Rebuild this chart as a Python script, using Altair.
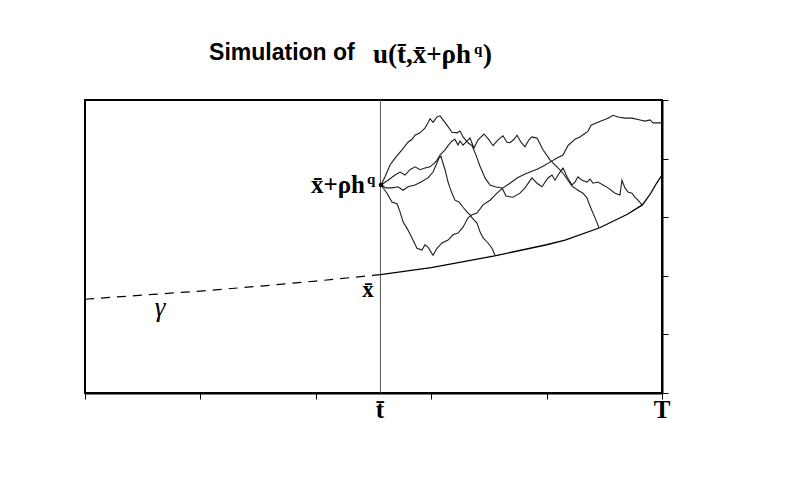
import altair as alt
import pandas as pd

# ---- data (axes units: time 0..5, space 0..5) ----
t_bar = 2.56
T_end = 5.0
x_ticks = [0, 1, 2, 3, 4, 5]
y_ticks = [0, 1, 2, 3, 4, 5]

# boundary gamma: dashed part before t_bar, solid part after
gamma_dash_t = [0.0, 0.5, 1.0, 1.5, 2.0, 2.56]
gamma_dash_x = [1.60, 1.67, 1.74, 1.82, 1.91, 2.02]
gamma_solid_t = [2.56, 3.0, 3.55, 4.0, 4.16, 4.46, 4.7, 4.83, 4.90, 4.95, 5.0]
gamma_solid_x = [2.02, 2.14, 2.34, 2.53, 2.61, 2.82, 3.05, 3.21, 3.40, 3.57, 3.72]

# simulated paths starting at (t_bar, xbar + rho h^q)
p1_t = [2.565, 2.600, 2.643, 2.695, 2.747, 2.799, 2.834, 2.860, 2.903, 2.946, 2.972, 2.990, 3.016, 3.050,
        3.076, 3.102, 3.137, 3.180, 3.224, 3.250, 3.276, 3.319, 3.354, 3.388, 3.423, 3.466, 3.510, 3.553,
        3.614, 3.648, 3.709, 3.769, 3.813, 3.873, 3.917, 3.960, 4.012, 4.047, 4.073, 4.116, 4.142, 4.177,
        4.220, 4.246, 4.272, 4.307, 4.350, 4.376, 4.402, 4.445, 4.489, 4.532, 4.593, 4.636, 4.653, 4.679,
        4.705, 4.740, 4.766, 4.792, 4.827]
p1_x = [3.55, 3.69, 3.89, 4.03, 4.15, 4.28, 4.33, 4.40, 4.44, 4.52, 4.61, 4.68, 4.62, 4.71,
        4.73, 4.66, 4.57, 4.45, 4.44, 4.47, 4.37, 4.27, 4.22, 4.06, 3.87, 3.67, 3.55, 3.52,
        3.50, 3.36, 3.34, 3.41, 3.50, 3.67, 3.58, 3.52, 3.67, 3.72, 3.63, 3.77, 3.84, 3.69,
        3.55, 3.60, 3.69, 3.63, 3.60, 3.65, 3.58, 3.60, 3.55, 3.50, 3.41, 3.38, 3.63, 3.50,
        3.43, 3.41, 3.34, 3.29, 3.21]

p2_t = [2.565, 2.626, 2.686, 2.730, 2.773, 2.816, 2.860, 2.903, 2.946, 2.990, 3.024, 3.050, 3.076, 3.120,
        3.146, 3.180, 3.206, 3.232, 3.250, 3.276, 3.310, 3.336, 3.371, 3.406, 3.458, 3.501, 3.536, 3.579,
        3.622, 3.657, 3.683, 3.718, 3.744, 3.778, 3.813, 3.847, 3.873, 3.917, 3.969, 4.029, 4.090, 4.142,
        4.185, 4.220, 4.272, 4.315, 4.350, 4.376, 4.402, 4.428, 4.454]
p2_x = [3.55, 3.63, 3.72, 3.77, 3.72, 3.81, 3.86, 3.81, 3.84, 3.86, 3.92, 3.97, 4.06, 4.15,
        4.22, 4.30, 4.33, 4.23, 4.30, 4.23, 4.30, 4.35, 4.18, 4.32, 4.42, 4.32, 4.22, 4.32,
        4.39, 4.28, 4.27, 4.33, 4.40, 4.28, 4.20, 4.32, 4.37, 4.35, 4.15, 3.98, 3.86, 3.75,
        3.63, 3.53, 3.46, 3.41, 3.33, 3.19, 3.07, 2.95, 2.82]

p3_t = [2.565, 2.608, 2.660, 2.712, 2.756, 2.799, 2.860, 2.912, 2.972, 3.016, 3.042, 3.068, 3.085, 3.102,
        3.120, 3.146, 3.163, 3.180, 3.206, 3.241, 3.276, 3.310, 3.336, 3.362, 3.397, 3.423, 3.449, 3.492,
        3.527, 3.553]
p3_x = [3.55, 3.50, 3.50, 3.52, 3.46, 3.52, 3.55, 3.60, 3.67, 3.77, 3.89, 4.01, 4.04, 3.92,
        3.81, 3.60, 3.50, 3.41, 3.29, 3.26, 3.17, 3.09, 3.04, 2.97, 2.90, 2.75, 2.65, 2.56,
        2.47, 2.35]

p4_t = [2.565, 2.617, 2.660, 2.704, 2.730, 2.756, 2.799, 2.842, 2.877, 2.920, 2.946, 2.972, 3.016, 3.050,
        3.094, 3.146, 3.189, 3.232, 3.276, 3.319, 3.354, 3.397, 3.449, 3.510, 3.570, 3.622, 3.683, 3.744,
        3.795, 3.856, 3.917, 3.969, 4.029, 4.090, 4.142, 4.185, 4.246, 4.289, 4.341, 4.359, 4.385, 4.445,
        4.532, 4.575, 4.619, 4.679, 4.740, 4.809, 4.853, 4.896, 4.922, 5.000]
p4_x = [3.55, 3.41, 3.26, 3.23, 3.09, 2.92, 2.78, 2.61, 2.47, 2.44, 2.53, 2.49, 2.35, 2.47,
        2.56, 2.61, 2.70, 2.73, 2.83, 2.99, 3.04, 3.07, 3.21, 3.29, 3.41, 3.50, 3.58, 3.67,
        3.72, 3.77, 3.82, 3.87, 3.94, 4.01, 4.06, 4.22, 4.33, 4.37, 4.44, 4.47, 4.57, 4.62,
        4.69, 4.74, 4.71, 4.69, 4.69, 4.66, 4.64, 4.66, 4.61, 4.61]

start_t = [2.565]
start_x = [3.55]

# ---- tables ----
paths = []
for name, ts, xs_ in [("p1", p1_t, p1_x), ("p2", p2_t, p2_x), ("p3", p3_t, p3_x), ("p4", p4_t, p4_x)]:
    for i, (a, b) in enumerate(zip(ts, xs_)):
        paths.append({"path": name, "i": i, "t": a, "x": b})
paths_df = pd.DataFrame(paths)
dash_df = pd.DataFrame({"t": gamma_dash_t, "x": gamma_dash_x, "i": range(len(gamma_dash_t))})
solid_df = pd.DataFrame({"t": gamma_solid_t, "x": gamma_solid_x, "i": range(len(gamma_solid_t))})
start_df = pd.DataFrame({"t": start_t, "x": start_x})

xs = alt.Scale(domain=[0, 5], nice=False, zero=False)
ys = alt.Scale(domain=[0, 5], nice=False, zero=False)

base_x_axis = alt.Axis(values=x_ticks, labels=False, grid=False, ticks=True, tickSize=6,
                       tickColor="black", domainColor="black", domainWidth=2, title=None, orient="bottom")
base_y_axis = alt.Axis(values=y_ticks, labels=False, grid=False, ticks=True, tickSize=6,
                       tickColor="black", domainColor="black", domainWidth=2, title=None, orient="right")

lines = alt.Chart(paths_df).mark_line(color="#1e1e1e", strokeWidth=1.1).encode(
    x=alt.X("t:Q", scale=xs, axis=base_x_axis),
    y=alt.Y("x:Q", scale=ys, axis=base_y_axis),
    detail="path:N",
    order="i:Q",
)

vline = alt.Chart(pd.DataFrame({"t": [t_bar], "y0": [0], "y1": [5]})).mark_rule(
    color="#555555", strokeWidth=1).encode(
    x=alt.X("t:Q", scale=xs), y=alt.Y("y0:Q", scale=ys), y2="y1:Q")

dash = alt.Chart(dash_df).mark_line(color="black", strokeWidth=1.2, strokeDash=[9, 7]).encode(
    x=alt.X("t:Q", scale=xs), y=alt.Y("x:Q", scale=ys), order="i:Q")

solid = alt.Chart(solid_df).mark_line(color="black", strokeWidth=1.3).encode(
    x=alt.X("t:Q", scale=xs), y=alt.Y("x:Q", scale=ys), order="i:Q")

start = alt.Chart(start_df).mark_point(filled=True, color="black", size=22, opacity=1).encode(
    x=alt.X("t:Q", scale=xs), y=alt.Y("x:Q", scale=ys))


def label(text, t, x, font, size, weight="bold", style="normal", align="left"):
    df = pd.DataFrame({"t": [t], "x": [x], "s": [text]})
    return alt.Chart(df).mark_text(font=font, fontSize=size, fontWeight=weight, fontStyle=style,
                                   align=align, baseline="alphabetic", color="black").encode(
        x=alt.X("t:Q", scale=xs), y=alt.Y("x:Q", scale=ys), text="s:N")


serif = "Liberation Serif"
texts = [
    label("Simulation of", 1.075, 5.68, "Liberation Sans", 23),
    label("u(t\u0304,x\u0304+\u03c1h", 3.345, 5.63, serif, 27, align="right"),
    label("q", 3.371, 5.79, serif, 15),
    label(")", 3.449, 5.63, serif, 27),
    label("x\u0304+\u03c1h", 2.426, 3.41, serif, 25, align="right"),
    label("q", 2.444, 3.57, serif, 15),
    label("x\u0304", 2.452, 1.64, serif, 23, align="center"),
    label("\u03b3", 0.65, 1.31, serif, 27, weight="normal", style="italic", align="center"),
    label("t\u0304", 2.556, -0.43, serif, 25, align="center"),
    label("T", 5.0, -0.43, serif, 25, align="center"),
]

chart = alt.layer(lines, vline, dash, solid, start, *texts).properties(
    width=577, height=293,
    autosize=alt.AutoSizeParams(type="none"),
    padding={"left": 77, "top": 92, "right": 100, "bottom": 90},
    background="white",
).configure_view(stroke="black", strokeWidth=2)

chart.save("out.html", embed_options={"renderer": "svg", "actions": False})
